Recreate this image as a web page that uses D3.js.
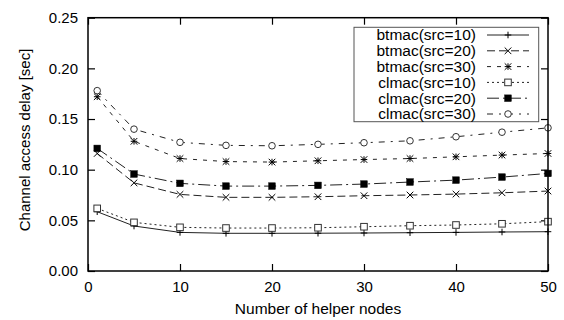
<!DOCTYPE html>
<html><head><meta charset="utf-8">
<script src="https://cdn.jsdelivr.net/npm/d3@7"></script>
<style>body{margin:0;background:#fff}svg{display:block}text{font-family:"Liberation Sans",Arial,sans-serif;fill:#000}</style>
</head><body><svg id="c" width="564" height="320"></svg>
<script>
const xs = [1, 5, 10, 15, 20, 25, 30, 35, 40, 45, 50];
const btmac10 = [0.0585, 0.0444, 0.0381, 0.0372, 0.0372, 0.0373, 0.0375, 0.0378, 0.0381, 0.0385, 0.0388];
const btmac20 = [0.116, 0.087, 0.0756, 0.0727, 0.0727, 0.0733, 0.0743, 0.075, 0.0759, 0.0772, 0.0789];
const btmac30 = [0.172, 0.128, 0.111, 0.108, 0.1075, 0.1088, 0.110, 0.111, 0.1127, 0.1144, 0.116];
const clmac10 = [0.0618, 0.048, 0.0431, 0.0424, 0.0424, 0.0427, 0.0437, 0.0447, 0.0454, 0.0466, 0.0487];
const clmac20 = [0.121, 0.0957, 0.0865, 0.0838, 0.0838, 0.0845, 0.0858, 0.0878, 0.0897, 0.0927, 0.0963];
const clmac30 = [0.178, 0.140, 0.127, 0.124, 0.1236, 0.125, 0.1266, 0.1285, 0.1325, 0.137, 0.1413];
const seriesNames = ["btmac(src=10)", "btmac(src=20)", "btmac(src=30)", "clmac(src=10)", "clmac(src=20)", "clmac(src=30)"];
const seriesValues = [btmac10, btmac20, btmac30, clmac10, clmac20, clmac30];
const xTicks = [0, 10, 20, 30, 40, 50];
const yTicks = [0, 0.05, 0.10, 0.15, 0.20, 0.25];

const dashes = ["none", "8,4", "4,6", "2,3", "12,4,2,4", "6,6,2,6"];
const markers = ["plus", "cross", "star", "square", "fsquare", "circle"];

const svg = d3.select("#c");
const L = 88, R = 548, T = 17.7, B = 271;
const x = d3.scaleLinear().domain([0, 50]).range([L, R]);
const y = d3.scaleLinear().domain([0, 0.25]).range([B, T]);
const tl = 7;

const gx = svg.append("g").attr("transform", `translate(0,${B})`)
  .call(d3.axisBottom(x).tickValues(xTicks).tickSizeInner(-tl).tickSizeOuter(0).tickPadding(10).tickFormat(d3.format("d")));
const gxt = svg.append("g").attr("transform", `translate(0,${T})`)
  .call(d3.axisTop(x).tickValues(xTicks).tickSizeInner(-tl).tickSizeOuter(0).tickFormat(""));
const gy = svg.append("g").attr("transform", `translate(${L},0)`)
  .call(d3.axisLeft(y).tickValues(yTicks).tickSizeInner(-tl).tickSizeOuter(0).tickPadding(10).tickFormat(d3.format(".2f")));
const gyr = svg.append("g").attr("transform", `translate(${R},0)`)
  .call(d3.axisRight(y).tickValues(yTicks).tickSizeInner(-tl).tickSizeOuter(0).tickFormat(""));
[gx, gxt, gy, gyr].forEach(g => {
  g.select(".domain").remove();
  g.selectAll("line").attr("stroke", "#000").attr("stroke-width", 1.2);
  g.selectAll("text").style("font-size", "15px").attr("fill", "#000");
});
gx.selectAll("text").attr("dy", "0.71em");

svg.append("text").attr("x", 318).attr("y", 314).attr("text-anchor", "middle").style("font-size", "15.5px").text("Number of helper nodes");
svg.append("text").attr("transform", "translate(30,140) rotate(-90)").attr("text-anchor", "middle").style("font-size", "15px").text("Channel access delay [sec]");

function drawMarker(g, type, cx, cy) {
  const s = 3.3;
  if (type === "plus") {
    g.append("path").attr("d", `M${cx - s},${cy}H${cx + s}M${cx},${cy - s}V${cy + s}`).attr("stroke", "#000").attr("stroke-width", 1).attr("fill", "none");
  } else if (type === "cross") {
    g.append("path").attr("d", `M${cx - s},${cy - s}L${cx + s},${cy + s}M${cx - s},${cy + s}L${cx + s},${cy - s}`).attr("stroke", "#000").attr("stroke-width", 1).attr("fill", "none");
  } else if (type === "star") {
    g.append("path").attr("d", `M${cx - s},${cy - s}L${cx + s},${cy + s}M${cx - s},${cy + s}L${cx + s},${cy - s}M${cx - s},${cy}H${cx + s}M${cx},${cy - s}V${cy + s}`).attr("stroke", "#000").attr("stroke-width", 1).attr("fill", "none");
  } else if (type === "square") {
    g.append("rect").attr("x", cx - s).attr("y", cy - s).attr("width", 2 * s).attr("height", 2 * s).attr("fill", "#fff").attr("stroke", "#333").attr("stroke-width", 1);
  } else if (type === "fsquare") {
    g.append("rect").attr("x", cx - s).attr("y", cy - s).attr("width", 2 * s).attr("height", 2 * s).attr("fill", "#000").attr("stroke", "#000").attr("stroke-width", 0.5);
  } else if (type === "circle") {
    g.append("circle").attr("cx", cx).attr("cy", cy).attr("r", s).attr("fill", "#fff").attr("stroke", "#333").attr("stroke-width", 1);
  }
}

const line = d3.line().x(d => x(d[0])).y(d => y(d[1]));
seriesValues.forEach((vals, i) => {
  const g = svg.append("g");
  const pts = xs.map((xv, j) => [xv, vals[j]]);
  g.append("path").attr("d", line(pts)).attr("fill", "none").attr("stroke", "#222").attr("stroke-width", 1)
    .attr("stroke-dasharray", dashes[i]);
  pts.forEach(p => drawMarker(g, markers[i], x(p[0]), y(p[1])));
});

svg.append("rect").attr("x", L).attr("y", T).attr("width", R - L).attr("height", B - T)
  .attr("fill", "none").attr("stroke", "#000").attr("stroke-width", 1.5);

const lg = svg.append("g");
lg.append("rect").attr("x", 354).attr("y", 27.3).attr("width", 184.7).attr("height", 94.4)
  .attr("fill", "#fff").attr("stroke", "#555").attr("stroke-width", 1);
seriesNames.forEach((name, i) => {
  const cy = 35 + i * 15.8;
  lg.append("text").attr("x", 476).attr("y", cy).attr("dy", "0.35em").attr("text-anchor", "end").style("font-size", "15.5px").text(name);
  lg.append("line").attr("x1", 487).attr("x2", 529).attr("y1", cy).attr("y2", cy)
    .attr("stroke", "#222").attr("stroke-width", 1).attr("stroke-dasharray", dashes[i]);
  drawMarker(lg, markers[i], 508, cy);
});
</script></body></html>
